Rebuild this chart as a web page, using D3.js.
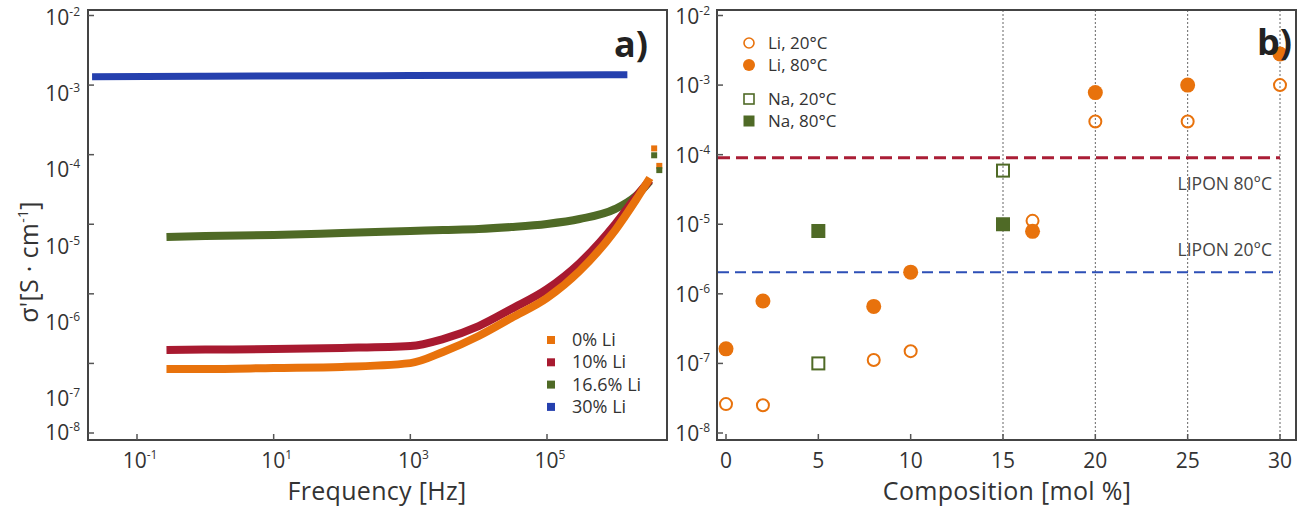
<!DOCTYPE html>
<html>
<head>
<meta charset="utf-8">
<script src="https://cdn.jsdelivr.net/npm/d3@7"></script>
<style>
  body { margin: 0; background: #fff; }
  svg text { font-family: "Open Sans", sans-serif; fill: #333; }
</style>
</head>
<body>
<svg id="chart" width="1309" height="506"></svg>
<script>
// ---- panel a) data: frequency [Hz] vs sigma' [S/cm]
var freqA = [0.27, 1, 10, 100, 1000, 3000, 10000, 30000, 100000, 300000, 1000000, 2000000, 3200000];
var li0 = [8.3e-8, 8.3e-8, 8.6e-8, 8.9e-8, 1.01e-7, 1.46e-7, 2.48e-7, 4.49e-7, 8.7e-7, 2.13e-6, 8.26e-6, 2.23e-5, 4.62e-5];
var li10 = [1.56e-7, 1.58e-7, 1.61e-7, 1.67e-7, 1.78e-7, 2.24e-7, 3.44e-7, 6.05e-7, 1.17e-6, 2.77e-6, 1.01e-5, 2.46e-5, 4.32e-5];
var li16 = [6.56e-6, 6.78e-6, 7.0e-6, 7.48e-6, 7.99e-6, 8.26e-6, 8.54e-6, 9.12e-6, 1.01e-5, 1.19e-5, 1.66e-5, 2.55e-5, 4.18e-5];
var freqBlue = [0.022, 1, 1000, 1500000];
var li30 = [1.32e-3, 1.34e-3, 1.37e-3, 1.41e-3];
// stray high-frequency points
var tailFreq = [3.7e6, 3.7e6, 4.4e6, 4.4e6];
var tailVal = [1.23e-4, 9.8e-5, 6.9e-5, 6.0e-5];
var tailSeries = [0, 2, 0, 2];

var seriesA = ['0% Li', '10% Li', '16.6% Li', '30% Li'];
var colorsA = ['#e8720c', '#a81a30', '#4f6a26', '#2540ae'];

// ---- panel b) data: composition [mol %] vs sigma'
var compLi = [0, 2, 8, 10, 16.6, 20, 25, 30];
var li20C = [2.6e-8, 2.5e-8, 1.12e-7, 1.5e-7, 1.12e-5, 3.0e-4, 3.0e-4, 1.0e-3];
var li80C = [1.62e-7, 7.9e-7, 6.6e-7, 2.05e-6, 7.9e-6, 7.8e-4, 1.0e-3, 2.8e-3];
var compNa = [5, 15];
var na20C = [1.0e-7, 5.9e-5];
var na80C = [8.0e-6, 1.0e-5];
var liponVals = [9.0e-5, 2.05e-6];
var liponLabels = ['LIPON 80°C', 'LIPON 20°C'];
var gridComp = [15, 20, 25, 30];

var yTicks = [-2, -3, -4, -5, -6, -7, -8];
var xTicksA = [-1, 1, 3, 5];
var xTicksB = [0, 5, 10, 15, 20, 25, 30];

var svg = d3.select('#chart');
var yTop = 10, yBot = 440;
var ax0 = 88, ax1 = 667, bx0 = 717, bx1 = 1296;

var y = d3.scaleLog().domain([1e-8, 1e-2]).range([433, 15.5]);
// the left panel's tick labels drift away from its ticks in the original figure
var yLabA = d3.scaleLinear().domain([-8, -7, -2]).range([433, 399, 18]);
var xa = d3.scaleLog().domain([0.1, 1e5]).range([137, 547]);
var xb = d3.scaleLinear().domain([0, 30]).range([726, 1280]);

function supLabel(sel, base, exp) {
  sel.append('tspan').text(base);
  sel.append('tspan').attr('dy', -9).attr('font-size', 12).text(exp);
}

// ---------- panel a ----------
var ga = svg.append('g');
var lineA = d3.line()
  .x(function (d) { return xa(d[0]); })
  .y(function (d) { return y(d[1]); })
  .curve(d3.curveMonotoneX);

ga.append('path')
  .datum(freqBlue.map(function (f, i) { return [f, li30[i]]; }))
  .attr('d', lineA)
  .style('fill', 'none').style('stroke', colorsA[3]).style('stroke-width', 7);

[[li16, 2], [li10, 1], [li0, 0]].forEach(function (s) {
  ga.append('path')
    .datum(freqA.map(function (f, i) { return [f, s[0][i]]; }))
    .attr('d', lineA)
    .style('fill', 'none').style('stroke', colorsA[s[1]]).style('stroke-width', 8);
});

ga.selectAll('rect.tail')
  .data(tailFreq)
  .enter()
  .append('rect')
  .attr('x', function (d) { return xa(d) - 3; })
  .attr('y', function (d, i) { return y(tailVal[i]) - 3; })
  .attr('width', 6).attr('height', 6)
  .style('fill', function (d, i) { return colorsA[tailSeries[i]]; });

ga.append('rect')
  .attr('x', ax0).attr('y', yTop).attr('width', ax1 - ax0).attr('height', yBot - yTop)
  .style('fill', 'none').style('stroke', '#444').style('stroke-width', 2);

// y ticks
ga.selectAll('line.yt').data(yTicks).enter().append('line')
  .attr('x1', ax0).attr('x2', ax0 + 6)
  .attr('y1', function (d) { return y(Math.pow(10, d)); })
  .attr('y2', function (d) { return y(Math.pow(10, d)); })
  .style('stroke', '#555').style('stroke-width', 1.5);
ga.selectAll('text.yl').data(yTicks).enter().append('text')
  .attr('x', ax0 - 8).attr('y', function (d) { return yLabA(d) + 7; })
  .attr('text-anchor', 'end').attr('font-size', 21)
  .each(function (d) { supLabel(d3.select(this), '10', d); });

ga.selectAll('line.xt').data(xTicksA).enter().append('line')
  .attr('x1', function (d) { return xa(Math.pow(10, d)); })
  .attr('x2', function (d) { return xa(Math.pow(10, d)); })
  .attr('y1', yBot).attr('y2', yBot - 6)
  .style('stroke', '#555').style('stroke-width', 1.5);
ga.selectAll('text.xl').data(xTicksA).enter().append('text')
  .attr('x', function (d) { return xa(Math.pow(10, d)) + 3; }).attr('y', 468)
  .attr('text-anchor', 'middle').attr('font-size', 21)
  .each(function (d) { supLabel(d3.select(this), '10', d); });

ga.append('text').attr('x', 377).attr('y', 500).attr('text-anchor', 'middle')
  .attr('font-size', 25).style('letter-spacing', '0.3px').text('Frequency [Hz]');

var yt = ga.append('text').attr('transform', 'translate(38,262) rotate(-90)')
  .attr('text-anchor', 'middle').attr('font-size', 25).style('letter-spacing', '0.3px');
yt.append('tspan').text("σ'[S · cm");
yt.append('tspan').attr('dy', -10).attr('font-size', 14).text('-1');
yt.append('tspan').attr('dy', 10).text(']');

ga.append('text').attr('x', 648).attr('y', 57).attr('text-anchor', 'end')
  .attr('font-size', 36).attr('font-weight', 'bold').style('fill', '#222').text('a)');

// legend a
var legA = ga.selectAll('g.lega').data(seriesA).enter().append('g')
  .attr('transform', function (d, i) { return 'translate(547,' + (340 + i * 22.3) + ')'; });
legA.append('rect').attr('x', 0).attr('y', -4).attr('width', 8).attr('height', 8)
  .style('fill', function (d, i) { return colorsA[i]; });
legA.append('text').attr('x', 25).attr('y', 6).attr('font-size', 18).text(function (d) { return d; });

// ---------- panel b ----------
var gb = svg.append('g');

gb.selectAll('line.grid').data(gridComp).enter().append('line')
  .attr('x1', function (d) { return xb(d); }).attr('x2', function (d) { return xb(d); })
  .attr('y1', yTop).attr('y2', yBot)
  .style('stroke', '#666').style('stroke-width', 1).style('stroke-dasharray', '2,2');

gb.selectAll('line.lipon').data(liponVals).enter().append('line')
  .attr('x1', bx0 + 1).attr('x2', xb(30))
  .attr('y1', function (d) { return y(d); }).attr('y2', function (d) { return y(d); })
  .style('stroke', function (d, i) { return i === 0 ? '#aa1e36' : '#2d4fb6'; })
  .style('stroke-width', function (d, i) { return i === 0 ? 3 : 2; })
  .style('stroke-dasharray', function (d, i) { return i === 0 ? '12,6' : '11,6'; });

gb.selectAll('text.lipon').data(liponLabels).enter().append('text')
  .attr('x', 1272).attr('y', function (d, i) { return i === 0 ? 190 : 256; })
  .attr('text-anchor', 'end').attr('font-size', 17.5).style('fill', '#444')
  .text(function (d) { return d; });

var orange = '#e8720c', olive = '#4f6a26';

gb.selectAll('rect.na80').data(compNa).enter().append('rect')
  .attr('x', function (d) { return xb(d) - 7; })
  .attr('y', function (d, i) { return y(na80C[i]) - 7; })
  .attr('width', 14).attr('height', 14).style('fill', olive);
gb.selectAll('rect.na20').data(compNa).enter().append('rect')
  .attr('x', function (d) { return xb(d) - 6; })
  .attr('y', function (d, i) { return y(na20C[i]) - 6; })
  .attr('width', 12).attr('height', 12)
  .style('fill', 'none').style('stroke', olive).style('stroke-width', 2);

gb.selectAll('circle.li20').data(compLi).enter().append('circle')
  .attr('cx', function (d) { return xb(d); })
  .attr('cy', function (d, i) { return y(li20C[i]); })
  .attr('r', 6).style('fill', 'none').style('stroke', orange).style('stroke-width', 2);
gb.selectAll('circle.li80').data(compLi).enter().append('circle')
  .attr('cx', function (d) { return xb(d); })
  .attr('cy', function (d, i) { return y(li80C[i]); })
  .attr('r', 7.5).style('fill', orange);

gb.append('rect')
  .attr('x', bx0).attr('y', yTop).attr('width', bx1 - bx0).attr('height', yBot - yTop)
  .style('fill', 'none').style('stroke', '#444').style('stroke-width', 2);

gb.selectAll('line.yt').data(yTicks).enter().append('line')
  .attr('x1', bx0).attr('x2', bx0 + 6)
  .attr('y1', function (d) { return y(Math.pow(10, d)); })
  .attr('y2', function (d) { return y(Math.pow(10, d)); })
  .style('stroke', '#555').style('stroke-width', 1.5);
gb.selectAll('text.yl').data(yTicks).enter().append('text')
  .attr('x', bx0 - 7).attr('y', function (d) { return y(Math.pow(10, d)) + 8; })
  .attr('text-anchor', 'end').attr('font-size', 21)
  .each(function (d) { supLabel(d3.select(this), '10', d); });

gb.selectAll('line.xt').data(xTicksB).enter().append('line')
  .attr('x1', function (d) { return xb(d); }).attr('x2', function (d) { return xb(d); })
  .attr('y1', yBot).attr('y2', yBot - 6)
  .style('stroke', '#555').style('stroke-width', 1.5);
gb.selectAll('text.xl').data(xTicksB).enter().append('text')
  .attr('x', function (d) { return xb(d); }).attr('y', 468)
  .attr('text-anchor', 'middle').attr('font-size', 21)
  .text(function (d) { return d; });

gb.append('text').attr('x', 1007).attr('y', 500).attr('text-anchor', 'middle')
  .attr('font-size', 25).style('letter-spacing', '0.3px').text('Composition [mol %]');

gb.append('text').attr('x', 1292).attr('y', 55).attr('text-anchor', 'end')
  .attr('font-size', 36).attr('font-weight', 'bold').style('fill', '#222').text('b)');

// legend b
var legB = ['Li, 20°C', 'Li, 80°C', 'Na, 20°C', 'Na, 80°C'];
var legBy = [43, 65, 99, 121];
var lb = gb.selectAll('g.legb').data(legB).enter().append('g')
  .attr('transform', function (d, i) { return 'translate(749,' + legBy[i] + ')'; });
lb.each(function (d, i) {
  var g = d3.select(this);
  if (i === 0) g.append('circle').attr('r', 5).style('fill', 'none').style('stroke', orange).style('stroke-width', 1.6);
  if (i === 1) g.append('circle').attr('r', 6).style('fill', orange);
  if (i === 2) g.append('rect').attr('x', -5).attr('y', -5).attr('width', 10).attr('height', 10)
    .style('fill', 'none').style('stroke', olive).style('stroke-width', 1.6);
  if (i === 3) g.append('rect').attr('x', -5.5).attr('y', -5.5).attr('width', 11).attr('height', 11).style('fill', olive);
});
lb.append('text').attr('x', 19).attr('y', 6).attr('font-size', 17).text(function (d) { return d; });
</script>
</body>
</html>
